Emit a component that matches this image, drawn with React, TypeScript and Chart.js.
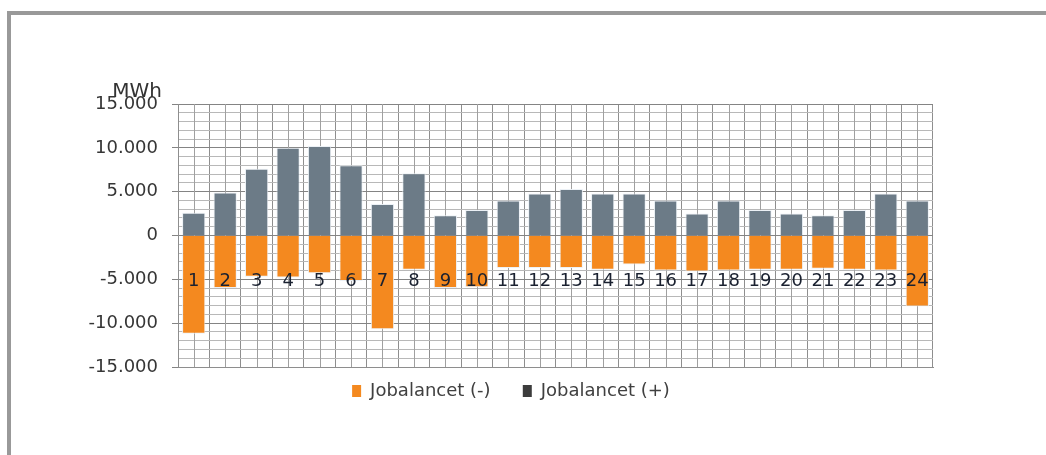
import React, { useEffect, useRef } from "react";
import { Chart, registerables } from "chart.js";

Chart.register(...registerables);

// ---- data ----
const hours: string[] = [
  "1", "2", "3", "4", "5", "6", "7", "8", "9", "10", "11", "12",
  "13", "14", "15", "16", "17", "18", "19", "20", "21", "22", "23", "24",
];
const negativeBalance: number[] = [
  -11200, -6000, -4700, -4800, -4300, -5200, -10700, -3900, -6000, -5900, -3700, -3700,
  -3700, -3900, -3300, -4000, -4100, -4000, -3900, -3900, -3800, -3900, -4000, -8100,
];
const positiveBalance: number[] = [
  2600, 4900, 7600, 10000, 10200, 8000, 3600, 7100, 2300, 2900, 4000, 4800,
  5300, 4800, 4800, 4000, 2500, 4000, 2900, 2500, 2300, 2900, 4800, 4000,
];
const seriesNames: string[] = ["Jobalancet (-)", "Jobalancet (+)"];
const yTickValues: number[] = [15000, 10000, 5000, 0, -5000, -10000, -15000];
const unitLabel = "MWh";
const hourLabelValue = -5250;

const FONT = "'DejaVu Sans', sans-serif";
const ORANGE = "#f4891f";
const GREY = "#6c7b87";
const LEGEND_DARK = "#3c3c3c";

function fmt(v: number): string {
  const s = Math.abs(v).toString().replace(/\B(?=(\d{3})+(?!\d))/g, ".");
  return (v < 0 ? "-" : "") + s;
}

const centerLinesPlugin = {
  id: "centerLines",
  beforeDatasetsDraw(chart: any) {
    const { ctx, chartArea, scales } = chart;
    const xs = scales.x;
    ctx.save();
    ctx.strokeStyle = "#a0a0a0";
    ctx.lineWidth = 1;
    hours.forEach((_, i) => {
      const x = Math.round(xs.getPixelForValue(i)) + 0.5;
      ctx.beginPath();
      ctx.moveTo(x, chartArea.top);
      ctx.lineTo(x, chartArea.bottom);
      ctx.stroke();
    });
    ctx.restore();
  },
};

const hourLabelsPlugin = {
  id: "hourLabels",
  afterDatasetsDraw(chart: any) {
    const { ctx, scales } = chart;
    const y = scales.y.getPixelForValue(hourLabelValue);
    ctx.save();
    ctx.font = `18px ${FONT}`;
    ctx.fillStyle = "#1a2130";
    ctx.textAlign = "center";
    ctx.textBaseline = "middle";
    hours.forEach((h, i) => {
      ctx.fillText(h, scales.x.getPixelForValue(i), y);
    });
    ctx.restore();
  },
};

const unitPlugin = {
  id: "unitLabel",
  afterDraw(chart: any) {
    const { ctx, chartArea } = chart;
    ctx.save();
    ctx.font = `20px ${FONT}`;
    ctx.fillStyle = "#333333";
    ctx.textAlign = "center";
    ctx.textBaseline = "middle";
    ctx.fillText(unitLabel, chartArea.left - 41, chartArea.top - 12);
    ctx.restore();
  },
};

export default function App() {
  const canvasRef = useRef<HTMLCanvasElement | null>(null);

  useEffect(() => {
    if (!canvasRef.current) return;
    const chart = new Chart(canvasRef.current, {
      type: "bar",
      data: {
        labels: hours,
        datasets: [
          {
            label: seriesNames[0],
            data: negativeBalance,
            backgroundColor: ORANGE,
            borderColor: "rgba(235,240,246,0.95)",
            borderWidth: 1,
            barPercentage: 0.74,
            categoryPercentage: 1,
          },
          {
            label: seriesNames[1],
            data: positiveBalance,
            backgroundColor: GREY,
            borderColor: "rgba(235,240,246,0.95)",
            borderWidth: 1,
            barPercentage: 0.74,
            categoryPercentage: 1,
          },
        ],
      },
      options: {
        responsive: false,
        maintainAspectRatio: false,
        animation: false,
        devicePixelRatio: 1,
        layout: { padding: { left: 89, right: 113, top: 104, bottom: 45 } },
        scales: {
          x: {
            stacked: true,
            offset: true,
            ticks: { display: false },
            grid: { color: "#8e8e8e", drawTicks: false, offset: true },
            border: { color: "#8e8e8e" },
          },
          y: {
            stacked: true,
            min: -15000,
            max: 15000,
            afterFit: (s: any) => {
              s.width = 89;
            },
            ticks: {
              stepSize: 1000,
              autoSkip: false,
              padding: 14,
              color: "#363636",
              font: { family: FONT, size: 18 },
              callback: (v: any) => (yTickValues.includes(Number(v)) ? fmt(Number(v)) : ""),
            },
            grid: {
              tickLength: 6,
              color: (c: any) =>
                c.tick && c.tick.value % 5000 === 0 ? "#848484" : "#b8b8b8",
              tickColor: (c: any) =>
                c.tick && c.tick.value % 5000 === 0 ? "#848484" : "rgba(0,0,0,0)",
            },
            border: { color: "#8e8e8e" },
          },
        },
        plugins: {
          tooltip: { enabled: false },
          legend: {
            position: "bottom",
            labels: {
              boxWidth: 9,
              boxHeight: 12,
              padding: 15,
              color: "#404040",
              font: { family: FONT, size: 18 },
              generateLabels: (ch: any) => {
                const items = (Chart as any).defaults.plugins.legend.labels.generateLabels(ch);
                return items.map((it: any, i: number) => ({
                  ...it,
                  text: i === 0 ? it.text + "   " : it.text,
                  fillStyle: i === 0 ? ORANGE : LEGEND_DARK,
                  strokeStyle: i === 0 ? ORANGE : LEGEND_DARK,
                  lineWidth: 0,
                }));
              },
            },
          },
        },
      },
      plugins: [centerLinesPlugin, hourLabelsPlugin, unitPlugin],
    } as any);
    return () => chart.destroy();
  }, []);

  return (
    <div
      style={{
        position: "fixed",
        left: 0,
        top: 0,
        width: 1046,
        height: 455,
        background: "#ffffff",
        overflow: "hidden",
      }}
    >
      <div
        style={{
          position: "absolute",
          left: 7,
          top: 11,
          width: 1100,
          height: 500,
          borderTop: "4px solid #999999",
          borderLeft: "4px solid #999999",
        }}
      />
      <canvas
        ref={canvasRef}
        width={1046}
        height={455}
        style={{ position: "absolute", left: 0, top: 0 }}
      />
    </div>
  );
}
